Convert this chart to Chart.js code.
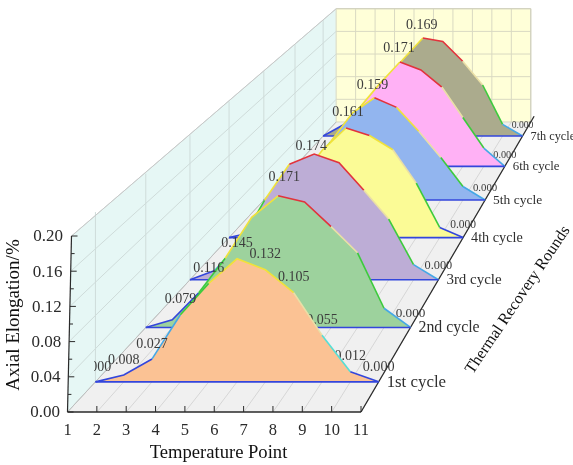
<!DOCTYPE html>
<html><head><meta charset="utf-8">
<style>html,body{margin:0;padding:0;background:#fff;overflow:hidden}canvas{display:block;filter:blur(0.45px)}</style>
<script src="https://cdn.jsdelivr.net/npm/chart.js@4/dist/chart.umd.min.js"></script>
</head><body><canvas id="c" width="573" height="465"></canvas>
<script>
const temperaturePoints=[1,2,3,4,5,6,7,8,9,10,11];
const cycleLabels=["1st cycle","2nd cycle","3rd cycle","4th cycle","5th cycle","6th cycle","7th cycle"];
const yTicks=[0,0.04,0.08,0.12,0.16,0.20];
const cycle1=[0,0.008,0.027,0.079,0.116,0.145,0.132,0.105,0.055,0.012,0];
const cycle2=[0,0.010,0.045,0.090,0.143,0.171,0.163,0.131,0.097,0.025,0];
const cycle3=[0,0.013,0.050,0.110,0.160,0.174,0.162,0.124,0.084,0.021,0];
const cycle4=[0,0.008,0.040,0.085,0.129,0.161,0.150,0.129,0.080,0.015,0];
const cycle5=[0,0.010,0.045,0.090,0.135,0.159,0.144,0.107,0.066,0.021,0];
const cycle6=[0,0.012,0.045,0.093,0.134,0.171,0.158,0.130,0.080,0.030,0];
const cycle7=[0,0.019,0.045,0.090,0.132,0.169,0.163,0.129,0.088,0.020,0];
const allCycles=[cycle1,cycle2,cycle3,cycle4,cycle5,cycle6,cycle7];
const fillColors=["#fbc294","#9dd29d","#bdadd6","#fbfb96","#92b5ef","#ffb1f5","#abab8d"];

const serif='"Liberation Serif","Times New Roman",serif';
const VX=865,VY=-449,K=0.508,X1=67.5,DX=29.35,Y0=412,HS=880;
const peakNudge=[[0,0],[6,-4],[-3,7],[2,-1],[-2,3],[-1,1],[-1,2]];
const scaleAt=d=>1/(1+K*d);
const depthOf=i=>(i+0.5)/7;
function project(t,v,d){
  const s=scaleAt(d);
  const f=1-0.03*Math.min(1,Math.max(0,(d-0.07)/0.1));
  return {x:VX+(X1+(t-1)*DX-VX)*s, y:VY+(Y0-VY)*s-v*HS*s*f};
}
const BLUE="#3346dc",LBLUE="#45a8e6",CYAN="#55dfd6",GREEN="#3ccb3c",PALE="#eadfa6",YEL="#f0e23a",RED="#e2333c";
function segColor(a,b){
  const m=(a+b)/2;
  if(b>=a){return m<0.03?BLUE:m<0.06?LBLUE:m<0.105?GREEN:m<0.16?YEL:RED;}
  return m<0.009?BLUE:m<0.03?LBLUE:m<0.04?CYAN:m<0.075?GREEN:m<0.115?PALE:m<0.142?YEL:RED;
}
const datasets=[];
allCycles.forEach((vals,i)=>{
  const d=depthOf(i);
  const pts=vals.map((v,k)=>project(temperaturePoints[k],v,d));
  datasets.push({type:'line',cyc:i,kind:'base',
    data:[project(1,0,d),project(11,0,d)],
    borderColor:BLUE,borderWidth:1.6,pointRadius:0,fill:false,tension:0});
  datasets.push({type:'line',cyc:i,kind:'line',data:pts,
    borderWidth:1.6,borderColor:BLUE,pointRadius:0,tension:0,fill:false,
    segment:{borderColor:c=>segColor(vals[c.p0DataIndex],vals[c.p1DataIndex])}});
  datasets.push({type:'line',cyc:i,kind:'area',data:pts,
    backgroundColor:fillColors[i],borderWidth:0,borderColor:'rgba(0,0,0,0)',pointRadius:0,tension:0,
    fill:{value:project(1,0,d).y}});
});
function poly(ctx,pts,fill,stroke,lw){
  ctx.beginPath();pts.forEach((p,i)=>i?ctx.lineTo(p.x,p.y):ctx.moveTo(p.x,p.y));
  if(fill){ctx.closePath();ctx.fillStyle=fill;ctx.fill();}
  if(stroke){ctx.strokeStyle=stroke;ctx.lineWidth=lw||1;ctx.stroke();}
}
const yAxisTilt=v=>v/0.2*4;
function frontWall(v){const p=project(1,v,0);return {x:p.x+yAxisTilt(v),y:p.y};}
function txt(ctx,s,x,y,size,color,align,rot){
  ctx.save();ctx.translate(x,y);if(rot)ctx.rotate(rot);
  ctx.font=size+'px '+serif;ctx.fillStyle=color;ctx.textAlign=align||'center';ctx.textBaseline='middle';
  ctx.fillText(s,0,0);ctx.restore();
}
function cycleText(ctx,i,inFront){
  const d=depthOf(i),s=scaleAt(d),vals=allCycles[i];
  vals.forEach((v,k)=>{
    if(i>0&&k!==5&&k!==10)return;
    if(i===0&&inFront!==(k<8||k===10))return;
    const p=project(temperaturePoints[k],v,d);
    const size=(k===10)?(14.8*Math.pow(s,1.1)):14;
    const off=(k===10&&i>0)?-16*s:-15;
    const n=(k===5)?peakNudge[i]:[0,0];
    ctx.save();
    if(i===0&&k===0){ctx.beginPath();ctx.rect(94,340,40,40);ctx.clip();}
    txt(ctx,v.toFixed(3),p.x+n[0],p.y+off+n[1],size,'#3c3c3c');
    ctx.restore();
  });
}
const scene={id:'scene',
  beforeDatasetsDraw(chart){
    const ctx=chart.ctx;ctx.save();
    const FF=project(1,0,0),FR=project(11,0,0),BL=project(1,0,1),BR=project(11,0,1),TL=project(1,0.2,1),TR=project(11,0.2,1);
    poly(ctx,[FF,FR,BR,BL],"#f0f0f0");
    poly(ctx,[BL,BR,TR,TL],"#ffffd8");
    poly(ctx,[FF,frontWall(0.2),TL,BL],"#e6f7f5");
    temperaturePoints.forEach(t=>{
      poly(ctx,[project(t,0,0),project(t,0,1)],null,"#cfcfcf",0.8);
      poly(ctx,[project(t,0,1),project(t,0.2,1)],null,"#d9d9c2",1);
    });
    yTicks.forEach(v=>{
      poly(ctx,[project(1,v,1),project(11,v,1)],null,"#d9d9c2",1);
      poly(ctx,[frontWall(v),project(1,v,1)],null,"#cfdcda",1);
    });
    cycleLabels.forEach((_,i)=>{
      const d=depthOf(i);
      poly(ctx,[project(1,0,d),project(1,0.2,d)],null,"#cfdcda",1);
    });
    poly(ctx,[FF,BL],null,"#bdbdbd",1);
    poly(ctx,[frontWall(0.2),TL],null,"#c8c8c8",1);
    poly(ctx,[TL,TR,BR],null,"#cfcfbd",1);
    poly(ctx,[FR,project(11,0,1.03)],null,"#2a2a2a",1.3);
    poly(ctx,[FF,FR],null,"#2a2a2a",1.3);
    poly(ctx,[FF,frontWall(0.2)],null,"#2a2a2a",1.2);
    temperaturePoints.forEach(t=>{
      const p=project(t,0,0);
      poly(ctx,[p,{x:p.x,y:p.y-6}],null,"#2a2a2a",1);
      txt(ctx,String(t),p.x,431,16.5,'#2a2a2a');
    });
    for(let n=0;n<=10;n++){
      const v=n*0.02,p=frontWall(v),major=n%2===0;
      poly(ctx,[p,{x:p.x+(major?6:3.5),y:p.y}],null,"#2a2a2a",1);
    }
    yTicks.forEach(v=>{
      const p=frontWall(v);
      txt(ctx,v.toFixed(2),60+v*15,p.y+1,17,'#2a2a2a','right');
    });
    txt(ctx,"Temperature Point",218.5,453,18.6,'#111');
    txt(ctx,"Axial Elongation/%",14,315,19,'#111','center',-Math.PI/2);
    txt(ctx,"Thermal Recovery Rounds",518,300,16.2,'#111','center',-56*Math.PI/180);
    cycleLabels.forEach((l,i)=>{
      const d=depthOf(i),s=scaleAt(d),p=project(11,0,d);
      txt(ctx,l,p.x+8,p.y+0.5,17.4*Math.pow(s,0.9),'#2f2f2f','left');
    });
    cycleText(ctx,6,true);
    ctx.restore();
  },
  afterDatasetDraw(chart,args){
    const ds=chart.data.datasets[args.index];
    if(ds.kind==='base'&&ds.cyc===1)cycleText(chart.ctx,0,false);
    else if(ds.kind==='base'&&ds.cyc>1)cycleText(chart.ctx,ds.cyc-1,true);
  },
  afterDatasetsDraw(chart){cycleText(chart.ctx,0,true);}
};
new Chart(document.getElementById('c'),{
  type:'line',
  data:{datasets},
  plugins:[scene],
  options:{
    responsive:false,animation:false,devicePixelRatio:1,
    layout:{padding:0},
    plugins:{legend:{display:false},tooltip:{enabled:false},title:{display:false}},
    clip:false,
    scales:{
      x:{type:'linear',min:0,max:573,display:false},
      y:{type:'linear',min:0,max:465,reverse:true,display:false}
    }
  }
});
</script></body></html>
